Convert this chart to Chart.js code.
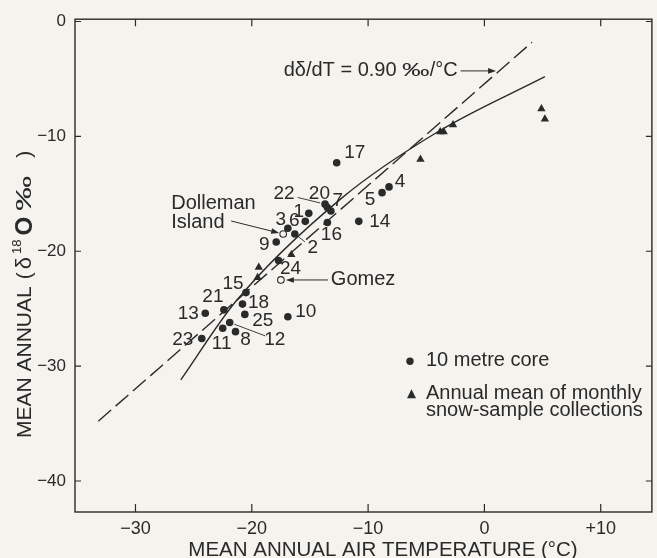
<!DOCTYPE html>
<html>
<head>
<meta charset="utf-8">
<script src="https://cdn.jsdelivr.net/npm/chart.js@4.4.0/dist/chart.umd.min.js"></script>
<style>
  html, body { margin: 0; padding: 0; background: #f5f3ed; overflow: hidden; }
</style>
</head>
<body>
<canvas id="chart" width="657" height="558"></canvas>
<script>
// 10 metre cores (closed circles)
const coreIds   = ['1', '2', '3', '4', '5', '6', '7', '8', '9', '10', '11', '12', '13', '14', '15', '16', '17', '18', '20', '21', '22', '23', '24', '25'];
const coreTemp  = [-15.1, -16.3, -16.9, -8.2, -8.8, -15.4, -13.2, -21.4, -17.9, -16.9, -22.5, -21.9, -24.0, -10.8, -20.5, -13.5, -12.7, -20.8, -13.5, -22.4, -13.7, -24.3, -17.7, -20.6];
const coreDelta = [-16.7, -18.5, -18.0, -14.4, -14.9, -17.4, -16.5, -27.0, -19.2, -25.7, -26.7, -26.2, -25.4, -17.4, -23.6, -17.5, -12.3, -24.6, -16.2, -25.1, -15.9, -27.6, -20.8, -25.5];

// named stations (open circles)
const openNames = ['Dolleman Island', 'Gomez'];
const openTemp  = [-17.3, -17.5];
const openDelta = [-18.5, -22.5];

// annual mean of monthly snow samples (triangles)
const snowTemp  = [-16.6, -19.4, -19.5, -5.5, -3.8, -3.5, -2.7, 4.9, 5.2];
const snowDelta = [-20.3, -21.4, -22.3, -12.0, -9.6, -9.6, -9.0, -7.6, -8.5];

// fitted lines
const dashTemp   = [-33.2, 4.1];
const dashDelta  = [-34.8, -1.8];
const solidTemp  = [-26.1, -21.4, -12.3, -4.0, 5.2];
const solidDelta = [-31.2, -24.4, -15.4, -9.6, -4.8];

// axes
const xTicks = [-30, -20, -10, 0, 10];
const yTicks = [0, -10, -20, -30, -40];

// label placement for the numbered cores, pixels from the dot
const labelOffset = {
  '1': [-10, -2], '2': [18, 14], '3': [-7, -9], '4': [11, -5], '5': [-12, 7], '6': [-11, -1],
  '7': [7, -10], '8': [10, 8], '9': [-12, 3], '10': [18, -5], '11': [-1, 16], '12': [45, 17],
  '13': [-17, 0], '14': [21, 0], '15': [-13, -9], '16': [4, 12], '17': [18, -10], '18': [16, -1],
  '20': [-8, -14], '21': [-11, -13], '22': [-41, -10], '23': [-19, 1], '24': [12, 8], '25': [18, 6]
};
const leaders = ['2', '12', '22'];

const ink = '#2a2a2a';
const paper = '#f5f3ed';
const face = '"Liberation Sans", Arial, sans-serif';

const pts = (xs, ys) => xs.map((x, i) => ({ x: x, y: ys[i] }));
const signed = v => v < 0 ? '\u2212' + Math.abs(v) : (v > 0 ? '+' + v : '0');

function arrow(ctx, x1, y1, x2, y2, head) {
  const a = Math.atan2(y2 - y1, x2 - x1);
  ctx.beginPath();
  ctx.moveTo(x1, y1);
  ctx.lineTo(x2 - Math.cos(a) * head * 0.7, y2 - Math.sin(a) * head * 0.7);
  ctx.stroke();
  ctx.beginPath();
  ctx.moveTo(x2, y2);
  ctx.lineTo(x2 - head * Math.cos(a) + head * 0.35 * Math.sin(a), y2 - head * Math.sin(a) - head * 0.35 * Math.cos(a));
  ctx.lineTo(x2 - head * Math.cos(a) - head * 0.35 * Math.sin(a), y2 - head * Math.sin(a) + head * 0.35 * Math.cos(a));
  ctx.closePath();
  ctx.fill();
}

// text pieces laid one after another on a shared baseline; sx stretches a piece sideways
function runWidth(ctx, parts) {
  return parts.reduce((w, p) => {
    ctx.font = p.font;
    return w + (p.gap || 0) + ctx.measureText(p.text).width * (p.sx || 1);
  }, 0);
}
function runs(ctx, parts, x, y) {
  parts.forEach(p => {
    ctx.font = p.font;
    x += p.gap || 0;
    const sx = p.sx || 1;
    ctx.save();
    ctx.translate(x, y - (p.rise || 0));
    ctx.scale(sx, 1);
    ctx.fillText(p.text, 0, 0);
    ctx.restore();
    x += ctx.measureText(p.text).width * sx;
  });
}

const decor = {
  id: 'decor',
  afterDraw(chart) {
    const ctx = chart.ctx;
    const xs = chart.scales.x, ys = chart.scales.y;
    const a = chart.chartArea;
    const px = v => xs.getPixelForValue(v);
    const py = v => ys.getPixelForValue(v);
    ctx.save();
    ctx.strokeStyle = ink;
    ctx.fillStyle = ink;

    // frame with inward ticks on all four sides
    ctx.lineWidth = 1.4;
    ctx.strokeRect(a.left, a.top, a.right - a.left, a.bottom - a.top);
    ctx.lineWidth = 1.2;
    ctx.beginPath();
    xTicks.forEach(v => {
      const x = px(v);
      ctx.moveTo(x, a.bottom); ctx.lineTo(x, a.bottom - 8);
      ctx.moveTo(x, a.top); ctx.lineTo(x, a.top + 7);
    });
    yTicks.forEach(v => {
      const y = py(v);
      ctx.moveTo(a.left, y); ctx.lineTo(a.left + 6, y);
      ctx.moveTo(a.right, y); ctx.lineTo(a.right - 6, y);
    });
    ctx.stroke();

    // numbers beside the cores
    ctx.font = '19px ' + face;
    ctx.textAlign = 'center';
    ctx.textBaseline = 'middle';
    coreIds.forEach((id, i) => {
      const x = px(coreTemp[i]), y = py(coreDelta[i]);
      const o = labelOffset[id];
      ctx.fillText(id, x + o[0], y + o[1]);
      if (leaders.includes(id)) {
        ctx.lineWidth = 0.9;
        ctx.beginPath();
        const dx = o[0], dy = o[1];
        const len = Math.hypot(dx, dy);
        const ux = dx / len, uy = dy / len;
        const startGap = 5, endGap = id === '22' ? 14 : 10;
        ctx.moveTo(x + ux * startGap, y + uy * startGap);
        ctx.lineTo(x + dx - ux * endGap, y + dy - uy * endGap);
        ctx.stroke();
      }
    });

    // Dolleman Island and Gomez callouts
    ctx.textAlign = 'left';
    ctx.font = '20px ' + face;
    const dx0 = px(openTemp[0]), dy0 = py(openDelta[0]);
    ctx.fillText('Dolleman', dx0 - 112, dy0 - 31);
    ctx.fillText('Island', dx0 - 112, dy0 - 12);
    ctx.lineWidth = 1;
    arrow(ctx, dx0 - 52, dy0 - 13, dx0 - 4, dy0 - 1, 8);
    const gx = px(openTemp[1]), gy = py(openDelta[1]);
    ctx.fillText('Gomez', gx + 50, gy);
    arrow(ctx, gx + 47, gy, gx + 5, gy, 8);

    // slope label with arrow to the dashed line
    const slopeParts = [
      { text: 'd\u03b4/dT = 0.90 ', font: '20px ' + face },
      { text: '\u2030', font: '19px ' + face, sx: 1.45 },
      { text: '/\u00b0C', font: '20px ' + face }
    ];
    const sx = px(-2.3), sy = py(-4.3);
    ctx.textAlign = 'left';
    runs(ctx, slopeParts, sx - runWidth(ctx, slopeParts), sy);
    arrow(ctx, sx + 3, sy, px(1.0), sy, 8);

    // legend
    ctx.textAlign = 'left';
    ctx.font = '20px ' + face;
    const lx = a.left + 335, ly = a.top + 342;
    ctx.beginPath(); ctx.arc(lx, ly, 3.7, 0, Math.PI * 2); ctx.fill();
    ctx.fillText('10 metre core', lx + 16, ly - 1);
    ctx.beginPath();
    ctx.moveTo(lx + 1.5, ly + 28); ctx.lineTo(lx + 6, ly + 37); ctx.lineTo(lx - 3, ly + 37);
    ctx.closePath(); ctx.fill();
    ctx.fillText('Annual mean of monthly', lx + 16, ly + 32);
    ctx.fillText('snow-sample collections', lx + 16, ly + 49);

    // axis titles
    ctx.textAlign = 'center';
    ctx.font = '20.5px ' + face;
    ctx.fillText('MEAN ANNUAL AIR TEMPERATURE (\u00b0C)', 383, 550);

    ctx.save();
    ctx.translate(25, 438);
    ctx.rotate(-Math.PI / 2);
    ctx.textAlign = 'left';
    runs(ctx, [
      { text: 'MEAN ANNUAL', font: '21px ' + face },
      { text: '(', font: '21px ' + face, gap: 7 },
      { text: '\u03b4', font: '22px ' + face, gap: 3 },
      { text: '18', font: '13px ' + face, rise: 8, gap: 3 },
      { text: 'O', font: 'bold 24px ' + face, gap: 4 },
      { text: '\u2030', font: '22px ' + face, gap: 6, sx: 1.6 },
      { text: ')', font: '21px ' + face, gap: 18 }
    ], 0, 0);
    ctx.restore();

    ctx.restore();
  }
};

const ctx = document.getElementById('chart').getContext('2d');
new Chart(ctx, {
  type: 'scatter',
  data: {
    datasets: [
      {
        type: 'line', label: 'd\u03b4/dT', data: pts(dashTemp, dashDelta),
        borderColor: ink, borderWidth: 1.4, borderDash: [17, 6], pointRadius: 0, fill: false
      },
      {
        type: 'line', label: 'fit', data: pts(solidTemp, solidDelta),
        borderColor: ink, borderWidth: 1.4, cubicInterpolationMode: 'monotone', pointRadius: 0, fill: false
      },
      {
        label: '10 metre core', data: pts(coreTemp, coreDelta),
        pointStyle: 'circle', pointRadius: 3.8, backgroundColor: ink, borderWidth: 0
      },
      {
        label: 'stations', data: pts(openTemp, openDelta),
        pointStyle: 'circle', pointRadius: 3.3, backgroundColor: paper, borderColor: ink, borderWidth: 1.1
      },
      {
        label: 'Annual mean of monthly snow-sample collections', data: pts(snowTemp, snowDelta),
        pointStyle: 'triangle', pointRadius: 4.8, backgroundColor: ink, borderWidth: 0
      }
    ]
  },
  options: {
    responsive: false,
    animation: false,
    layout: { padding: { top: 16, right: 1, left: 0, bottom: 0 } },
    plugins: { legend: { display: false }, tooltip: { enabled: false } },
    scales: {
      x: {
        type: 'linear', min: -35.2, max: 14.4,
        afterBuildTicks: s => { s.ticks = xTicks.map(v => ({ value: v })); },
        afterFit: s => { s.height = 46; },
        grid: { display: false, drawTicks: false },
        border: { display: false },
        ticks: { padding: 6, color: ink, font: { family: face, size: 18 }, maxRotation: 0, callback: v => signed(v) }
      },
      y: {
        type: 'linear', min: -42.7, max: 0.2,
        afterBuildTicks: s => { s.ticks = yTicks.map(v => ({ value: v })); },
        afterFit: s => { s.width = 75; },
        grid: { display: false, drawTicks: false },
        border: { display: false },
        ticks: { padding: 9, color: ink, font: { family: face, size: 17 }, callback: v => v === 0 ? '0' : signed(v) }
      }
    }
  },
  plugins: [decor]
});
</script>
</body>
</html>
